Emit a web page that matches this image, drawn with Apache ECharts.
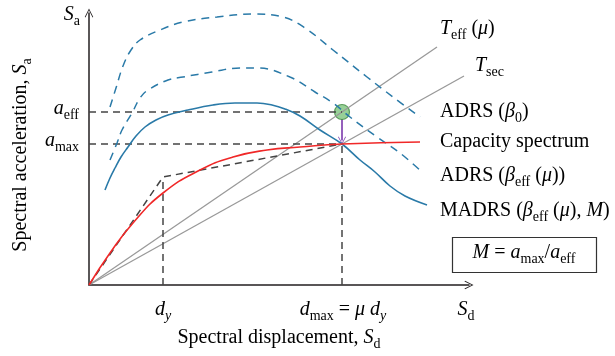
<!DOCTYPE html>
<html>
<head>
<meta charset="utf-8">
<script src="https://cdn.jsdelivr.net/npm/echarts@6/dist/echarts.min.js"></script>
<style>
  html, body { margin: 0; padding: 0; background: #fff; }
  #chart { width: 615px; height: 356px; }
</style>
</head>
<body>
<div id="chart"></div>
<script>
// curves (displacement, acceleration) in arbitrary units
var adrsBeta0 = [[2.1,17.8],[2.7,19.7],[3.4,21.9],[4.2,23.5],[5.1,24.5],[7.1,25.5],[9.4,26.3],[12.8,26.8],[16.4,27.1],[19.4,26.8],[21.6,25.7],[24.4,23.5],[27.8,20.8],[30.4,18.8],[33.1,16.8]];
var adrsBetaEff = [[2.1,12.5],[2.8,14.2],[3.3,15.5],[4.3,17.2],[5.1,18.7],[5.9,19.5],[7.9,20.5],[9.4,20.8],[12.3,21.3],[15.1,21.7],[16.8,21.7],[20.1,20.8],[22.6,19.3],[24.4,18.2],[26.1,16.8],[28.8,14.8],[31.1,13.2],[33.4,11.2]];
var madrs = [[1.6,9.5],[2.1,10.7],[2.6,11.7],[3.2,12.8],[3.9,13.8],[4.7,14.9],[5.6,15.8],[6.7,16.5],[7.9,17.0],[9.9,17.5],[12.4,18.0],[14.6,18.2],[16.8,18.2],[18.3,18.0],[19.6,17.6],[21.1,16.9],[23.1,15.5],[25.3,14.1],[27.1,12.5],[28.6,11.3],[30.1,9.9],[31.6,8.9],[33.8,8.0]];
var capacity = [[0,0],[2.1,3.2],[4.4,6.2],[7.4,9.2],[11.1,11.5],[14.4,12.8],[17.8,13.5],[21.1,13.8],[25.3,14.1],[33.1,14.3]];
var dy = 7.4, ay = 10.8;
var dmax = 25.3, amax = 14.1, aeff = 17.3;
var teffEnd = 34.8, tsecEnd = 37.5;

var bilinear = [[0,0],[dy,ay],[dmax,amax]];

var font = 'Liberation Serif';
var ink = '#231f20';
var rich = {
  r: {fontFamily: font, fontSize: 20, lineHeight: 26, color: ink},
  i: {fontFamily: font, fontSize: 20, lineHeight: 26, color: ink, fontStyle: 'italic'},
  s: {fontFamily: font, fontSize: 14, lineHeight: 26, color: ink, padding: [12,0,0,0]},
  si: {fontFamily: font, fontSize: 14, lineHeight: 26, color: ink, fontStyle: 'italic', padding: [12,0,0,0]}
};

function label(text, x, y, align, rot) {
  return {
    type: 'text', x: x, y: y, rotation: rot || 0,
    style: {text: text, rich: rich, align: align || 'left', verticalAlign: 'middle'}
  };
}

var chevron = 'path://M0 10L5 0L10 10L9.2 10.6L5 2.2L0.8 10.6Z';
var blue = '#2a7aa8';

function dashedBlack(data) {
  return {type: 'line', data: data, showSymbol: false, silent: true,
    lineStyle: {color: '#444', width: 1.5, type: [7,5]}};
}

var chart = echarts.init(document.getElementById('chart'));
chart.setOption({
  animation: false,
  grid: {left: 89, right: 146, top: 13, bottom: 71},
  xAxis: {type: 'value', min: 0, max: 38.0,
    axisLine: {lineStyle: {color: ink, width: 1.5}, symbol: ['none', chevron], symbolSize: [12, 9]},
    axisTick: {show: false}, axisLabel: {show: false}, splitLine: {show: false}},
  yAxis: {type: 'value', min: 0, max: 27.2,
    axisLine: {lineStyle: {color: ink, width: 1.5}, symbol: ['none', chevron], symbolSize: [13, 9]},
    axisTick: {show: false}, axisLabel: {show: false}, splitLine: {show: false}},
  series: [
    {type: 'line', data: [[0,0],[teffEnd, teffEnd * aeff / dmax]], showSymbol: false, lineStyle: {color: '#999', width: 1.3}},
    {type: 'line', data: [[0,0],[tsecEnd, tsecEnd * amax / dmax]], showSymbol: false, lineStyle: {color: '#999', width: 1.3}},
    dashedBlack([[0,aeff],[dmax,aeff]]),
    dashedBlack([[0,amax],[dmax,amax]]),
    dashedBlack([[dy,0],[dy,ay]]),
    dashedBlack([[dmax,0],[dmax,amax]]),
    dashedBlack(bilinear),
    {type: 'line', data: adrsBeta0, smooth: 0.4, showSymbol: false, lineStyle: {color: blue, width: 1.5, type: [8,6]}},
    {type: 'line', data: adrsBetaEff, smooth: 0.4, showSymbol: false, lineStyle: {color: blue, width: 1.5, type: [8,6]}},
    {type: 'line', data: madrs, smooth: 0.4, showSymbol: false, lineStyle: {color: blue, width: 1.6}},
    {type: 'line', data: capacity, smooth: 0.5, showSymbol: false, lineStyle: {color: '#f02828', width: 1.6}},
    {type: 'lines', coordinateSystem: 'cartesian2d', symbol: ['none', chevron], symbolSize: [11, 8],
      lineStyle: {color: '#8a4fb5', width: 1.8, opacity: 1},
      data: [{coords: [[dmax, aeff - 0.7], [dmax, amax + 0.35]]}]},
    {type: 'scatter', data: [[dmax, aeff]], symbolSize: 15,
      itemStyle: {color: '#7dc47d', borderColor: '#3e8a3e', borderWidth: 1.2}}
  ],
  graphic: [
    label('{i|S}{s|a}', 80, 15, 'right'),
    label('{r|Spectral acceleration, }{i|S}{s|a}', 21, 155, 'center', Math.PI / 2),
    label('{i|a}{s|eff}', 79, 109, 'right'),
    label('{i|a}{s|max}', 79, 141, 'right'),
    label('{i|d}{si|y}', 163, 310, 'center'),
    label('{i|d}{s|max}{r| = }{i|μ d}{si|y}', 343, 310, 'center'),
    label('{i|S}{s|d}', 466, 310, 'center'),
    label('{r|Spectral displacement, }{i|S}{s|d}', 279, 338, 'center'),
    label('{i|T}{s|eff}{r| (}{i|μ}{r|)}', 440, 29, 'left'),
    label('{i|T}{s|sec}', 475, 66, 'left'),
    label('{r|ADRS (}{i|β}{s|0}{r|)}', 440, 112, 'left'),
    label('{r|Capacity spectrum}', 440, 142, 'left'),
    label('{r|ADRS (}{i|β}{s|eff}{r| (}{i|μ}{r|))}', 440, 176, 'left'),
    label('{r|MADRS (}{i|β}{s|eff}{r| (}{i|μ}{r|), }{i|M}{r|)}', 440, 211, 'left'),
    {type: 'rect', shape: {x: 452.5, y: 237.5, width: 144, height: 35},
      style: {fill: 'none', stroke: '#333', lineWidth: 1.2}},
    label('{i|M}{r| = }{i|a}{s|max}{r|/}{i|a}{s|eff}', 524, 253, 'center')
  ]
});
</script>
</body>
</html>
